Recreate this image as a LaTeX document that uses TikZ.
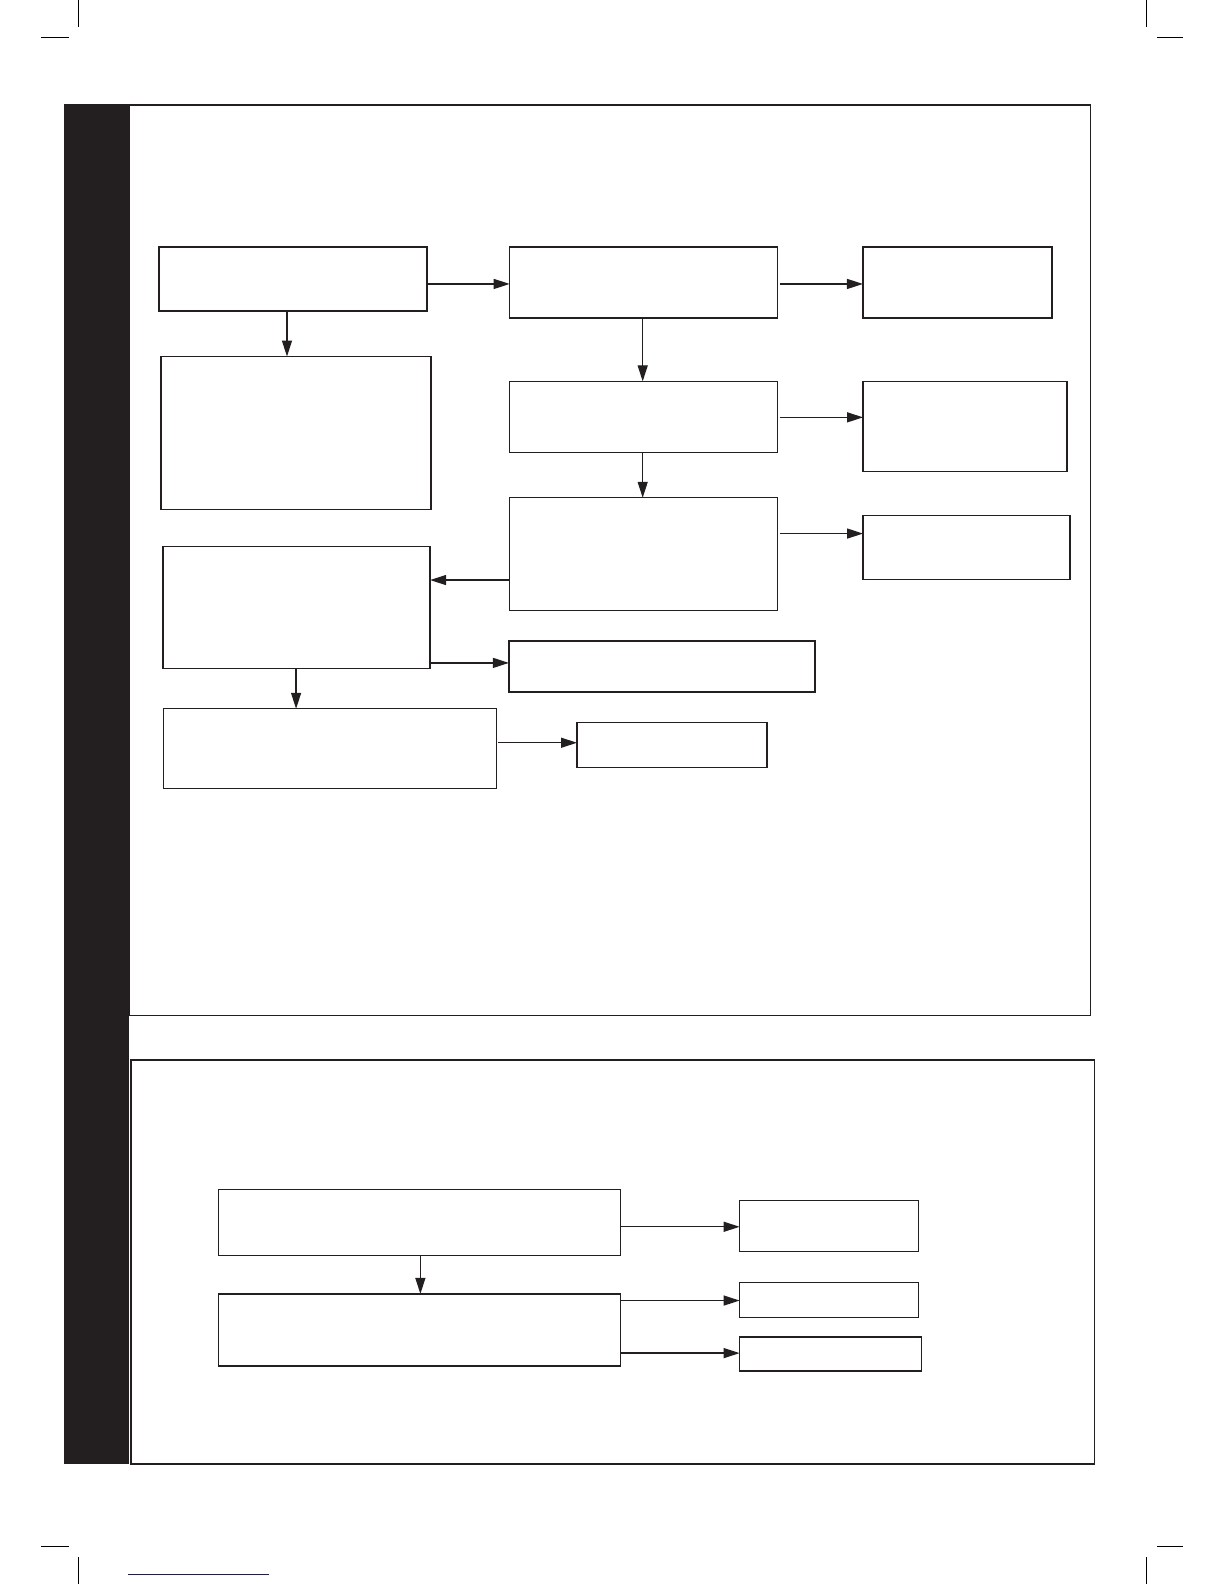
\documentclass[tikz,border=0pt]{standalone}
\usetikzlibrary{arrows.meta}
\definecolor{ink}{HTML}{231F20}
\definecolor{linkblue}{HTML}{1A1A7A}
\begin{document}
\begin{tikzpicture}[x=1.0105pt,y=-1.0105pt,
  box/.style={draw=ink,line width=1.3pt,inner sep=0pt,outer sep=0pt},
  arr/.style={draw=ink,line width=1.3pt,-{Triangle[length=16pt,width=10pt]}},
  crop/.style={draw=black,line width=1pt},
  frame/.style={draw=ink,line width=1.4pt}]
\useasboundingbox (0,0) rectangle (1211.3,1567.5);
% crop marks
\draw[crop] (78,0) -- (78,27);
\draw[crop] (41,37) -- (68,37);
\draw[crop] (1135,0) -- (1135,27);
\draw[crop] (1145,37) -- (1171,37);
\draw[crop] (78,1541) -- (78,1567.5);
\draw[crop] (41,1530) -- (68,1530);
\draw[crop] (1135,1541) -- (1135,1567.5);
\draw[crop] (1145,1530) -- (1171,1530);
\draw[draw=linkblue,line width=1.2pt] (127,1558) -- (266,1558);
% side bar and frames
\fill[ink] (63,103) rectangle (128,1449);
\draw[frame] (128,104) rectangle (1079,1005);
\draw[frame,line width=1.8pt] (130,1049) rectangle (1083,1449);
% panel 1 boxes
\node[box,minimum width=268pt,minimum height=64pt] (A) at (290,276) {};
\node[box,minimum width=270pt,minimum height=153pt] (B) at (293,428.5) {};
\node[box,minimum width=268pt,minimum height=71pt] (C) at (637,279.5) {};
\node[box,minimum width=189pt,minimum height=71pt] (D) at (947.5,279.5) {};
\node[box,minimum width=268pt,minimum height=71pt] (E) at (637,412.5) {};
\node[box,minimum width=204pt,minimum height=90pt] (F) at (955,422) {};
\node[box,minimum width=268pt,minimum height=113pt] (G) at (637,548.5) {};
\node[box,minimum width=207pt,minimum height=64pt] (H) at (956.5,542) {};
\node[box,minimum width=267pt,minimum height=122pt] (I) at (293.5,601) {};
\node[box,minimum width=306pt,minimum height=51pt] (J) at (655,659.5) {};
\node[box,minimum width=333pt,minimum height=80pt] (K) at (326.5,741) {};
\node[box,minimum width=190pt,minimum height=45pt] (L) at (665,737.5) {};
% panel 1 connectors
\draw[arr] (A.east |- 0,281) -- (C.west |- 0,281);
\draw[arr] (A.south -| 284,0) -- (B.north -| 284,0);
\draw[arr] ([xshift=2pt]C.east |- 0,281) -- (D.west |- 0,281);
\draw[arr] (C.south -| 636,0) -- (E.north -| 636,0);
\draw[arr] ([xshift=2pt]E.east |- 0,413) -- (F.west |- 0,413);
\draw[arr] (E.south -| 636,0) -- (G.north -| 636,0);
\draw[arr] ([xshift=2pt]G.east |- 0,528) -- (H.west |- 0,528);
\draw[arr] (G.west |- 0,574) -- (I.east |- 0,574);
\draw[arr] (I.east |- 0,656) -- (J.west |- 0,656);
\draw[arr] (I.south -| 293,0) -- (K.north -| 293,0);
\draw[arr] ([xshift=2pt]K.east |- 0,735) -- (L.west |- 0,735);
% panel 2 boxes
\node[box,minimum width=402pt,minimum height=66pt] (M) at (415,1210) {};
\node[box,minimum width=179pt,minimum height=51pt] (N) at (820.5,1213.5) {};
\node[box,minimum width=402pt,minimum height=72pt] (O) at (415,1316) {};
\node[box,minimum width=179pt,minimum height=35pt] (P) at (820.5,1286.5) {};
\node[box,minimum width=182pt,minimum height=34pt] (Q) at (822,1340) {};
% panel 2 connectors
\draw[arr] (M.east |- 0,1214) -- (N.west |- 0,1214);
\draw[arr] (M.south -| 416,0) -- (O.north -| 416,0);
\draw[arr] (O.east |- 0,1287) -- (P.west |- 0,1287);
\draw[arr] (O.east |- 0,1339) -- (Q.west |- 0,1339);
\end{tikzpicture}
\end{document}
